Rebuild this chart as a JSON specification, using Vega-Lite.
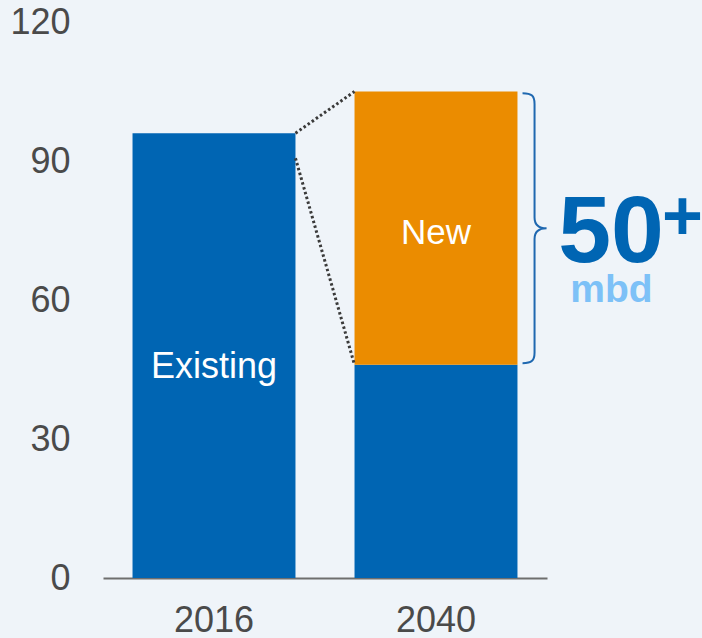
{
  "$schema": "https://vega.github.io/schema/vega-lite/v6.json",
  "width": 444,
  "height": 556,
  "autosize": "none",
  "padding": {"left": 103, "top": 22, "right": 155, "bottom": 60},
  "background": "#eff4f9",
  "config": {
    "view": {"stroke": null},
    "font": "Liberation Sans",
    "axis": {"grid": false, "ticks": false, "tickSize": 0, "title": null, "labelFont": "Liberation Sans", "labelFontSize": 36, "labelColor": "#4a4a4a"}
  },
  "datasets": {
    "bars": [
      {"year": "2016", "segment": "Existing", "value": 96, "label": "Existing"},
      {"year": "2040", "segment": "Existing", "value": 46, "label": ""},
      {"year": "2040", "segment": "New", "value": 59, "label": "New"}
    ],
    "links": [
      {"from": "2016", "to": "2040", "start": 96, "end": 105},
      {"from": "2016", "to": "2040", "start": 90.6, "end": 46}
    ]
  },
  "layer": [
    {
      "data": {"name": "bars"},
      "mark": {"type": "bar"},
      "encoding": {
        "x": {"field": "year", "type": "nominal", "scale": {"paddingInner": 0.266, "paddingOuter": 0.133},
              "axis": {"labelAngle": 0, "domain": true, "domainColor": "#6e6e6e", "domainWidth": 2, "labelPadding": 25}},
        "y": {"field": "value", "type": "quantitative", "stack": "zero",
              "scale": {"domain": [0, 120], "nice": false},
              "axis": {"values": [0, 30, 60, 90, 120], "domain": false, "labelPadding": 33}},
        "color": {"field": "segment", "type": "nominal", "scale": {"domain": ["Existing", "New"], "range": ["#0065b3", "#eb8c00"]}, "legend": null},
        "order": {"field": "segment"}
      }
    },
    {
      "data": {"name": "bars"},
      "mark": {"type": "text", "color": "white", "fontSize": 36, "baseline": "middle", "dy": 11.5},
      "encoding": {
        "x": {"field": "year", "type": "nominal"},
        "y": {"field": "value", "type": "quantitative", "stack": "zero", "bandPosition": 0.5},
        "detail": {"field": "segment"},
        "order": {"field": "segment"},
        "text": {"condition": {"test": "datum.label == 'Existing'", "field": "label"}, "value": ""}
      }
    },
    {
      "data": {"name": "bars"},
      "mark": {"type": "text", "color": "white", "fontSize": 35, "baseline": "middle", "dy": 4.5},
      "encoding": {
        "x": {"field": "year", "type": "nominal"},
        "y": {"field": "value", "type": "quantitative", "stack": "zero", "bandPosition": 0.5},
        "detail": {"field": "segment"},
        "order": {"field": "segment"},
        "text": {"condition": {"test": "datum.label == 'New'", "field": "label"}, "value": ""}
      }
    },
    {
      "data": {"name": "links"},
      "mark": {"type": "rule", "color": "#3a3a3a", "strokeWidth": 3, "strokeDash": [2.5, 2.5]},
      "encoding": {
        "x": {"field": "from", "type": "nominal", "bandPosition": 1},
        "x2": {"field": "to", "bandPosition": 0},
        "y": {"field": "start", "type": "quantitative"},
        "y2": {"field": "end"}
      }
    },
    {
      "data": {"values": [{"year": "2040"}]},
      "mark": {"type": "point", "filled": false, "stroke": "#1f68b0", "strokeWidth": 2, "opacity": 1, "size": 72900,
               "shape": "M0.641,-1 C0.71,-1 0.73,-0.98 0.73,-0.92 L0.73,-0.08 C0.73,-0.03 0.76,0 0.819,0 C0.76,0 0.73,0.03 0.73,0.08 L0.73,0.92 C0.73,0.98 0.71,1 0.641,1"},
      "encoding": {
        "x": {"field": "year", "type": "nominal"},
        "y": {"datum": 75.5, "type": "quantitative"}
      }
    },
    {
      "data": {"values": [{"year": "2040", "t": "50"}]},
      "mark": {"type": "text", "fontSize": 95, "fontWeight": "bold", "color": "#0065b3", "align": "center", "baseline": "alphabetic", "dx": 175},
      "encoding": {
        "x": {"field": "year", "type": "nominal"},
        "y": {"datum": 68.2, "type": "quantitative"},
        "text": {"field": "t"}
      }
    },
    {
      "data": {"values": [{"year": "2040", "t": "+"}]},
      "mark": {"type": "text", "fontSize": 70, "fontWeight": "bold", "color": "#0065b3", "align": "center", "baseline": "alphabetic", "dx": 246.5},
      "encoding": {
        "x": {"field": "year", "type": "nominal"},
        "y": {"datum": 72.9, "type": "quantitative"},
        "text": {"field": "t"}
      }
    },
    {
      "data": {"values": [{"year": "2040", "t": "mbd"}]},
      "mark": {"type": "text", "fontSize": 39, "fontWeight": "bold", "color": "#7dc1f7", "align": "center", "baseline": "alphabetic", "dx": 175.5},
      "encoding": {
        "x": {"field": "year", "type": "nominal"},
        "y": {"datum": 59.6, "type": "quantitative"},
        "text": {"field": "t"}
      }
    }
  ]
}
